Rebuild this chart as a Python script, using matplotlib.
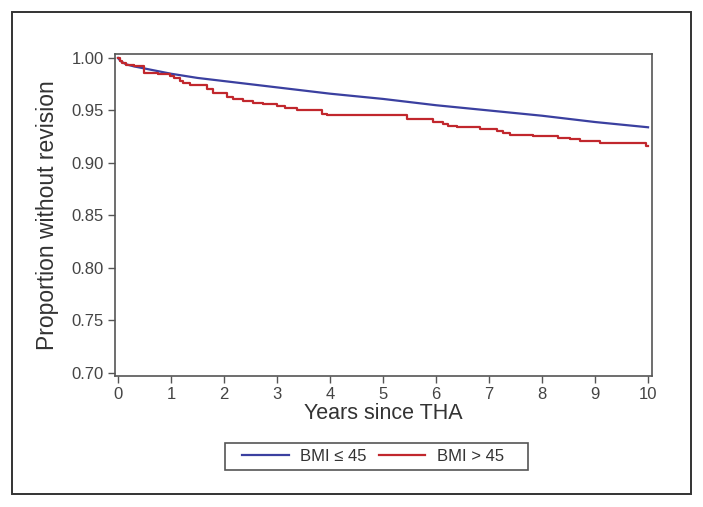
import matplotlib
matplotlib.use("Agg")
import matplotlib.pyplot as plt
from matplotlib.patches import Rectangle

plt.rcParams['font.family'] = ['Liberation Sans', 'DejaVu Sans']

# Kaplan-Meier curves
years_low = [0, 0.05, 0.15, 0.3, 0.5, 1.0, 1.5, 2, 3, 4, 5, 6, 7, 8, 9, 10]
surv_low = [1.0, 0.997, 0.994, 0.992, 0.990, 0.985, 0.981, 0.978, 0.972,
            0.966, 0.961, 0.955, 0.950, 0.945, 0.939, 0.934]

years_high = [0, 0.03, 0.08, 0.15, 0.3, 0.49, 0.75, 0.98, 1.05, 1.17, 1.23,
              1.36, 1.68, 1.79, 2.05, 2.17, 2.36, 2.55, 2.74, 3.0, 3.15,
              3.37, 3.85, 3.94, 5.45, 5.94, 6.13, 6.23, 6.4, 6.83, 7.15,
              7.27, 7.4, 7.83, 8.3, 8.53, 8.72, 9.09, 9.97, 10]
surv_high = [1.0, 0.997, 0.995, 0.993, 0.992, 0.986, 0.985, 0.983, 0.981,
             0.978, 0.976, 0.974, 0.970, 0.967, 0.963, 0.961, 0.959, 0.9575,
             0.956, 0.954, 0.952, 0.950, 0.947, 0.946, 0.942, 0.939, 0.937,
             0.935, 0.934, 0.932, 0.930, 0.929, 0.927, 0.926, 0.924, 0.9225,
             0.921, 0.919, 0.9165, 0.9165]

xticks = list(range(0, 11))
yticks = [0.70, 0.75, 0.80, 0.85, 0.90, 0.95, 1.00]

blue = '#3b40a0'
red = '#c1272d'
grey = '#555555'

fig = plt.figure(figsize=(7.03, 5.07), dpi=100)
ax = fig.add_axes([0.1636, 0.2584, 0.7639, 0.6351])

ax.plot(years_low, surv_low, color=blue, lw=1.6, label='BMI \u2264 45')
ax.step(years_high, surv_high, where='post', color=red, lw=1.6, label='BMI > 45')

ax.set_xlim(-0.057, 10.075)
ax.set_ylim(0.6971, 1.0038)
ax.set_xticks(xticks)
ax.set_yticks(yticks)
ax.set_yticklabels([f'{v:.2f}' for v in yticks])

for s in ax.spines.values():
    s.set_color(grey)
    s.set_linewidth(1.2)
ax.tick_params(direction='out', length=5, width=1, color=grey,
               labelcolor='#444444', labelsize=12, pad=3)

ax.set_xlabel('Years since THA', fontsize=15.5, color='#333333', labelpad=1)
ax.set_ylabel('Proportion without revision', fontsize=16.5, color='#333333', labelpad=9)

# legend under the axes, frame drawn separately
leg = fig.legend(loc='center', bbox_to_anchor=(0.5306, 0.0996), ncol=2,
                 fontsize=12, handlelength=2.8, frameon=False,
                 columnspacing=0.7, handletextpad=0.7)
for t in leg.get_texts():
    t.set_color('#333333')
fig.patches.append(Rectangle((225 / 703, 1 - 470 / 507), 303 / 703, 27 / 507,
                             transform=fig.transFigure, fill=False,
                             edgecolor=grey, lw=1.2))

# outer frame around the whole figure
fig.patches.append(Rectangle((0.017, 0.0256), 0.966, 0.9504, transform=fig.transFigure,
                             fill=False, edgecolor='#333333', lw=1.4))

fig.savefig('out.png', dpi=100)
